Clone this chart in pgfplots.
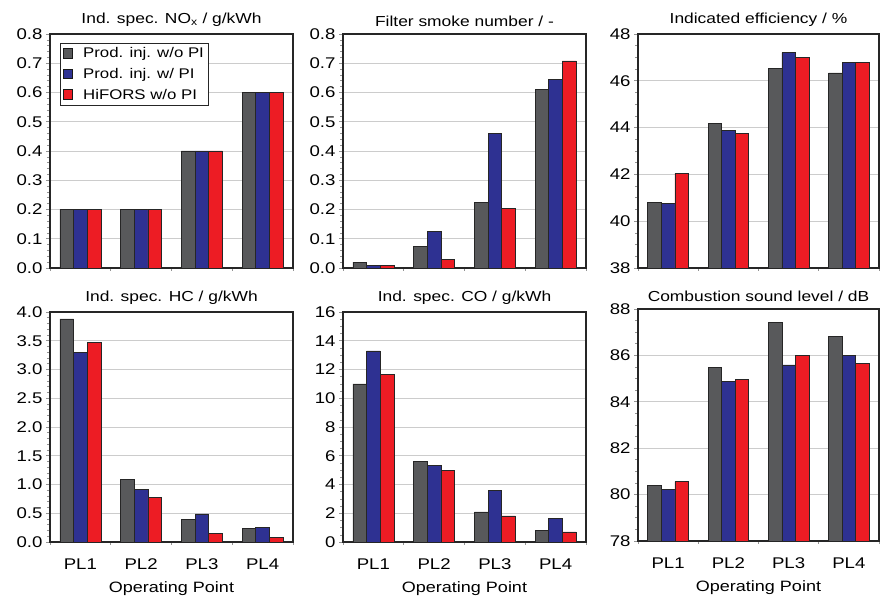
\documentclass[border=0pt]{standalone}
\usepackage{pgfplots}
\pgfplotsset{compat=1.18}
\usepackage{fontspec}
\setmainfont{Liberation Sans}[FakeStretch=1.2]
\definecolor{cg}{HTML}{58595B}
\definecolor{cb}{HTML}{2E3192}
\definecolor{cr}{HTML}{ED1C24}
\pgfplotsset{
  panel/.style={
    scale only axis, xmin=0, xmax=4, ybar=0pt, bar width=0.225,
    axis line style={line width=1.4pt, color=black!85},
    xtick={0.5,1.5,2.5,3.5}, xticklabels={PL1,PL2,PL3,PL4},
    xtick pos=bottom, ytick pos=left,
    major x tick style={draw=none},
    minor xtick={0,1,2,3,4},
    tick align=outside, major tick length=4pt, minor tick length=3pt,
    every tick/.style={gray!85, line width=0.6pt},
    ymajorgrids, xmajorgrids=false, xminorgrids=false,
    grid style={gray!40, line width=0.6pt},
    /pgf/number format/assume math mode=true,
    tick label style={font=\fontsize{15.5}{17}\selectfont},
    xticklabel style={yshift=-9pt},
    title style={font=\fontsize{14.5}{17}\selectfont, yshift=-2pt},
    label style={font=\fontsize{15}{17}\selectfont},
    every axis plot/.append style={draw=black!85, line width=0.6pt},
    legend image code/.code={\draw[#1,draw=black!90,line width=0.7pt] (0pt,-4.5pt) rectangle (9.5pt,5pt); \path[draw=none,fill=none] (0pt,0pt) -- (18pt,0pt);},
  },
  toprow/.style={xticklabels={}},
  botrow/.style={xlabel={Operating Point}, xlabel style={yshift=-5pt}},
  dec/.style={yticklabel style={/pgf/number format/.cd, fixed, fixed zerofill, precision=1}},
}
\begin{document}
\begin{tikzpicture}
\useasboundingbox (0,0) rectangle (884pt,597pt);
% Panel 1: NOx
\begin{axis}[panel, toprow, dec, at={(50pt,329pt)}, anchor=south west,
  width=243pt, height=234pt, ymin=0, ymax=0.8, ytick={0,0.1,...,0.8}, minor y tick num=4,
  title={Ind. spec. NO\textsubscript{x} / g/kWh},
  legend style={at={(0.041,0.962)}, anchor=north west, draw=black!85, line width=0.7pt,
    font=\fontsize{14}{16}\selectfont, row sep=5pt, inner sep=2.5pt, cells={anchor=west}}]
\addplot[fill=cg] coordinates {(0.5,0.2) (1.5,0.2) (2.5,0.4) (3.5,0.6)};
\addplot[fill=cb] coordinates {(0.5,0.2) (1.5,0.2) (2.5,0.4) (3.5,0.6)};
\addplot[fill=cr] coordinates {(0.5,0.2) (1.5,0.2) (2.5,0.4) (3.5,0.6)};
\legend{Prod. inj. w/o PI, Prod. inj. w/ PI, HiFORS w/o PI}
\end{axis}
% Panel 2: FSN
\begin{axis}[panel, toprow, dec, at={(343pt,329pt)}, anchor=south west,
  width=243pt, height=234pt, ymin=0, ymax=0.8, ytick={0,0.1,...,0.8}, minor y tick num=4,
  title={Filter smoke number / -}]
\addplot[fill=cg] coordinates {(0.5,0.02) (1.5,0.073) (2.5,0.223) (3.5,0.61)};
\addplot[fill=cb] coordinates {(0.5,0.01) (1.5,0.124) (2.5,0.459) (3.5,0.644)};
\addplot[fill=cr] coordinates {(0.5,0.01) (1.5,0.03) (2.5,0.205) (3.5,0.708)};
\end{axis}
% Panel 3: efficiency
\begin{axis}[panel, toprow, at={(638pt,329pt)}, anchor=south west,
  width=241pt, height=234pt, ymin=38, ymax=48, ytick={38,40,...,48}, minor y tick num=3,
  title={Indicated efficiency / \%}]
\addplot[fill=cg] coordinates {(0.5,40.82) (1.5,44.19) (2.5,46.52) (3.5,46.34)};
\addplot[fill=cb] coordinates {(0.5,40.75) (1.5,43.87) (2.5,47.2) (3.5,46.78)};
\addplot[fill=cr] coordinates {(0.5,42.04) (1.5,43.76) (2.5,47.0) (3.5,46.78)};
\end{axis}
% Panel 4: HC
\begin{axis}[panel, botrow, dec, at={(50pt,55pt)}, anchor=south west,
  width=243pt, height=230pt, ymin=0, ymax=4, ytick={0,0.5,...,4}, minor y tick num=4,
  title={Ind. spec. HC / g/kWh}]
\addplot[fill=cg] coordinates {(0.5,3.88) (1.5,1.09) (2.5,0.39) (3.5,0.24)};
\addplot[fill=cb] coordinates {(0.5,3.30) (1.5,0.92) (2.5,0.49) (3.5,0.255)};
\addplot[fill=cr] coordinates {(0.5,3.47) (1.5,0.78) (2.5,0.145) (3.5,0.075)};
\end{axis}
% Panel 5: CO
\begin{axis}[panel, botrow, at={(343pt,55pt)}, anchor=south west,
  width=243pt, height=230pt, ymin=0, ymax=16, ytick={0,2,...,16}, minor y tick num=3,
  title={Ind. spec. CO / g/kWh}]
\addplot[fill=cg] coordinates {(0.5,11.0) (1.5,5.58) (2.5,2.09) (3.5,0.79)};
\addplot[fill=cb] coordinates {(0.5,13.3) (1.5,5.35) (2.5,3.6) (3.5,1.65)};
\addplot[fill=cr] coordinates {(0.5,11.67) (1.5,5.0) (2.5,1.81) (3.5,0.70)};
\end{axis}
% Panel 6: sound
\begin{axis}[panel, botrow, at={(638pt,56pt)}, anchor=south west,
  width=241pt, height=232pt, ymin=78, ymax=88, ytick={78,80,...,88}, minor y tick num=3,
  title={Combustion sound level / dB}]
\addplot[fill=cg] coordinates {(0.5,80.40) (1.5,85.48) (2.5,87.41) (3.5,86.83)};
\addplot[fill=cb] coordinates {(0.5,80.23) (1.5,84.89) (2.5,85.59) (3.5,86.01)};
\addplot[fill=cr] coordinates {(0.5,80.56) (1.5,84.96) (2.5,86.01) (3.5,85.65)};
\end{axis}
\end{tikzpicture}
\end{document}
